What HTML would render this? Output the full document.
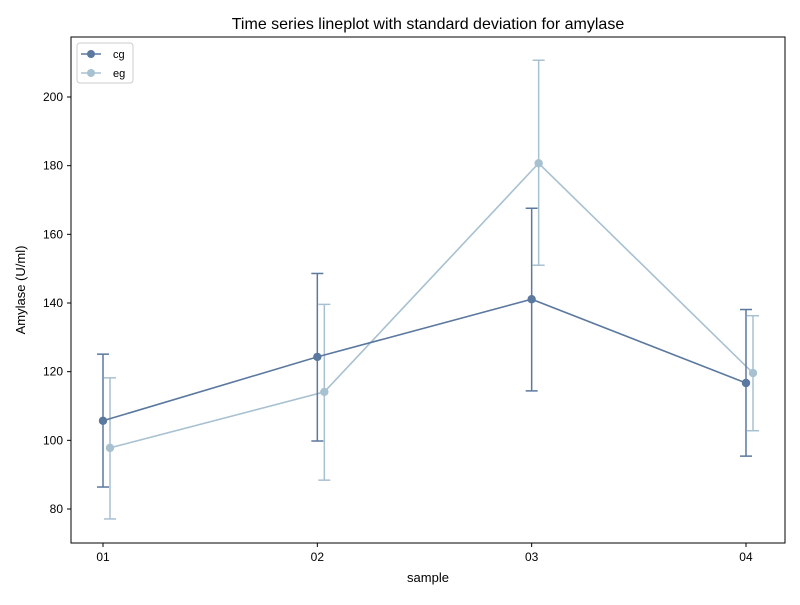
<!DOCTYPE html>
<html><head><meta charset="utf-8"><style>
body{margin:0;background:#fff;font-family:"Liberation Sans","DejaVu Sans",sans-serif}
</style></head><body>
<svg id="chart" width="800" height="600" xmlns="http://www.w3.org/2000/svg">
<rect width="800" height="600" fill="#fff"/>
<text x="428" y="29" font-size="16" text-anchor="middle">Time series lineplot with standard deviation for amylase</text>
<g id="plot"></g>
<rect x="71" y="37" width="714" height="506" fill="none" stroke="#000" stroke-width="1"/>
<text x="428" y="582" font-size="13" text-anchor="middle">sample</text>
<text x="25" y="290" font-size="13" text-anchor="middle" transform="rotate(-90 25 290)">Amylase (U/ml)</text>
<g>
<rect x="77" y="43" width="56" height="40" rx="3" fill="#fff" stroke="#ccc"/>
<line x1="81" y1="54" x2="101" y2="54" stroke="#5b789f" stroke-width="1.5"/><circle cx="91" cy="54" r="4" fill="#5b789f"/>
<text x="113" y="58" font-size="11">cg</text>
<line x1="81" y1="73" x2="101" y2="73" stroke="#a8c1d1" stroke-width="1.5"/><circle cx="91" cy="73" r="4" fill="#a8c1d1"/>
<text x="113" y="77" font-size="11">eg</text>
</g>
</svg>
<script>
const categories=["01","02","03","04"];
const cgMean=[105.7,124.3,141.1,116.7];
const cgUpper=[125.1,148.6,167.6,138.1];
const cgLower=[86.4,99.8,114.4,95.4];
const egMean=[97.8,114.1,180.7,119.6];
const egUpper=[118.2,139.6,210.7,136.3];
const egLower=[77.1,88.4,151.0,102.8];
const yTicks=[80,100,120,140,160,180,200];
const NS="http://www.w3.org/2000/svg";
const g=document.getElementById("plot");
function y(v){return 509-(v-80)*(412/120);}
function x(i,off){return 103+i*214.33+off;}
function mk(t,a){const e=document.createElementNS(NS,t);for(const k in a)e.setAttribute(k,a[k]);g.appendChild(e);return e;}
yTicks.forEach(v=>{
 const t=mk("line",{x1:67,x2:71,y1:y(v),y2:y(v),stroke:"#000"});
 
 
 const l=mk("text",{x:63,y:y(v)+4,"font-size":12,"text-anchor":"end"});l.textContent=v;
 
 
});
categories.forEach((c,i)=>{
 const t=mk("line",{x1:x(i,0),x2:x(i,0),y1:543,y2:547,stroke:"#000"});
 
 
 const l=mk("text",{x:x(i,0),y:561,"font-size":12,"text-anchor":"middle"});l.textContent=c;
 
 
});
function series(name,mean,up,lo,off,col){
 const pts=mean.map((v,i)=>x(i,off)+","+y(v)).join(" ");
 const pl=mk("polyline",{points:pts,fill:"none",stroke:col,"stroke-width":1.6});
 
 
 mean.forEach((v,i)=>{
  const cx=x(i,off);
  const e=mk("line",{x1:cx,x2:cx,y1:y(up[i]),y2:y(lo[i]),stroke:col,"stroke-width":1.5});
  
  
  [up[i],lo[i]].forEach(b=>{
   const cap=mk("line",{x1:cx-6,x2:cx+6,y1:y(b),y2:y(b),stroke:col,"stroke-width":1.5});
   
   
  });
  const p=mk("circle",{cx:cx,cy:y(v),r:4.2,fill:col});
  
  
 });
}
series("eg",egMean,egUpper,egLower,7,"#a8c1d1");
series("cg",cgMean,cgUpper,cgLower,0,"#5b789f");
</script>
</body></html>
